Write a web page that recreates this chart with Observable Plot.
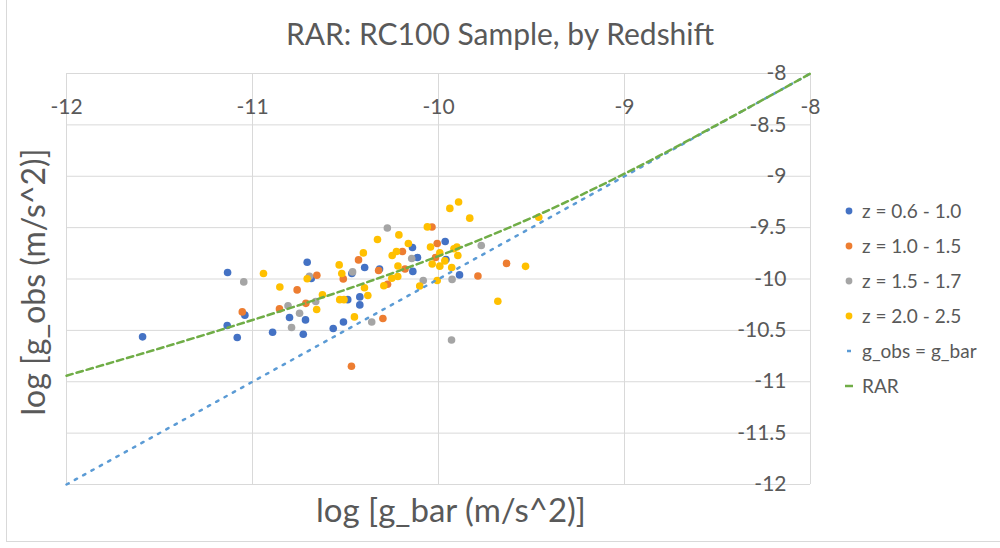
<!DOCTYPE html>
<html><head><meta charset="utf-8">
<script src="https://cdn.jsdelivr.net/npm/d3@7"></script>
<script src="https://cdn.jsdelivr.net/npm/@observablehq/plot@0.6"></script>
<style>
body{margin:0;background:#fff;font-family:Lato,"Open Sans",sans-serif;color:#595959}
#wrap{position:relative;width:1000px;height:548px;overflow:hidden}
#border{position:absolute;left:6px;top:-1px;width:1000px;height:543px;border:1px solid #D9D9D9;box-sizing:border-box}
#title{position:absolute;left:0;top:0;width:1000px;height:50px;text-align:center;font-size:30px;line-height:66px}
#chart{position:absolute;left:0;top:50px}
#xtitle{position:absolute;left:201px;width:500px;top:489px;text-align:center;font-size:33px}
#ytitle{position:absolute;left:32px;top:282px;transform:translate(-50%,-50%) rotate(-90deg);white-space:nowrap;font-size:32px}
#legend{position:absolute;left:843px;top:193px;font-size:19px}
.row{height:35px;display:flex;align-items:center}
.row svg{margin-right:5px}
</style></head>
<body><div id="wrap">
<div id="border"></div>
<div id="title">RAR: RC100 Sample, by Redshift</div>
<div id="chart"></div>
<div id="xtitle">log [g_bar (m/s^2)]</div>
<div id="ytitle">log [g_obs (m/s^2)]</div>
<div id="legend"></div>
</div>
<script>
const xTicks = [-12, -11, -10, -9, -8];
const xTickLabels = ["-12", "-11", "-10", "-9", "-8"];
const yTicks = [-8, -8.5, -9, -9.5, -10, -10.5, -11, -11.5, -12];
const yTickLabels = ["-8", "-8.5", "-9", "-9.5", "-10", "-10.5", "-11", "-11.5", "-12"];

const seriesNames = ["z = 0.6 - 1.0", "z = 1.0 - 1.5", "z = 1.5 - 1.7", "z = 2.0 - 2.5", "g_obs = g_bar", "RAR"];
const seriesColors = ["#4472C4", "#ED7D31", "#A5A5A5", "#FFC000", "#5B9BD5", "#70AD47"];

const z06_10 = [[-11.591,-10.563],[-11.134,-9.937],[-11.136,-10.453],[-11.082,-10.569],[-11.041,-10.352],
 [-10.892,-10.518],[-10.801,-10.375],[-10.715,-10.398],[-10.727,-10.537],[-10.706,-9.837],[-10.684,-9.995],
 [-10.566,-10.482],[-10.511,-10.418],[-10.488,-10.201],[-10.423,-10.174],[-10.423,-10.252],[-10.466,-9.946],
 [-10.397,-9.888],[-10.317,-9.902],[-10.140,-9.693],[-10.113,-9.791],[-10.138,-9.926],[-9.964,-9.635],
 [-9.960,-9.810],[-9.887,-9.960]];
const z10_15 = [[-11.055,-10.320],[-10.855,-10.291],[-10.760,-10.106],[-10.713,-10.237],[-10.654,-9.963],
 [-10.512,-9.999],[-10.430,-9.814],[-10.468,-10.849],[-10.322,-9.917],[-10.299,-10.384],[-10.274,-10.051],
 [-10.194,-9.732],[-10.180,-9.902],[-10.035,-9.494],[-10.007,-9.654],[-10.016,-9.791],[-9.788,-9.971],
 [-9.634,-9.848]];
const z15_17 = [[-11.047,-10.028],[-10.809,-10.260],[-10.790,-10.472],[-10.747,-10.333],[-10.694,-9.973],
 [-10.660,-10.219],[-10.462,-9.931],[-10.359,-10.418],[-10.275,-9.504],[-10.144,-9.800],[-10.082,-10.014],
 [-9.927,-10.004],[-9.930,-10.593],[-9.770,-9.674]];
const z20_25 = [[-10.941,-9.946],[-10.853,-10.078],[-10.706,-9.997],[-10.655,-10.297],[-10.624,-10.153],
 [-10.534,-9.863],[-10.531,-10.201],[-10.508,-10.201],[-10.520,-9.946],[-10.452,-10.369],[-10.404,-9.746],
 [-10.398,-10.085],[-10.380,-10.160],[-10.328,-9.616],[-10.294,-10.065],[-10.249,-9.771],[-10.251,-9.992],
 [-10.226,-9.732],[-10.218,-9.873],[-10.219,-9.976],[-10.213,-9.571],[-10.162,-9.654],[-10.101,-10.068],
 [-10.060,-9.493],[-10.043,-9.688],[-10.034,-9.854],[-10.007,-10.015],[-9.993,-9.746],[-9.993,-9.875],
 [-9.966,-9.824],[-9.939,-9.313],[-9.929,-9.888],[-9.917,-9.705],[-9.901,-9.688],[-9.896,-9.771],
 [-9.892,-9.250],[-9.832,-9.408],[-9.681,-10.216],[-9.532,-9.877],[-9.461,-9.399]];
const unityLine = [[-12,-12],[-8,-8]];
const rarLine = [[-12,-10.941],[-11.75,-10.809],[-11.5,-10.676],[-11.25,-10.539],[-11,-10.399],
 [-10.75,-10.255],[-10.5,-10.104],[-10.25,-9.945],[-10,-9.777],[-9.75,-9.598],[-9.5,-9.405],
 [-9.25,-9.197],[-9,-8.975],[-8.75,-8.741],[-8.5,-8.497],[-8.25,-8.250],[-8,-8.0]];

const pointSeries = [z06_10, z10_15, z15_17, z20_25];

const chart = Plot.plot({
  width: 1000, height: 498,
  marginLeft: 66, marginRight: 190, marginTop: 23, marginBottom: 64,
  x: {domain: [-12, -8], axis: null},
  y: {domain: [-12, -8], axis: null},
  style: {fontFamily: "Lato, 'Open Sans', sans-serif", color: "#595959", background: "transparent"},
  marks: [
    Plot.gridX(xTicks, {stroke: "#D9D9D9", strokeOpacity: 1, strokeWidth: 1}),
    Plot.gridY(yTicks, {stroke: "#D9D9D9", strokeOpacity: 1, strokeWidth: 1}),
    Plot.text(xTicks, {x: d => d, text: (d, i) => xTickLabels[i], frameAnchor: "top", dy: 34, fontSize: 21, fill: "#595959", lineAnchor: "middle"}),
    Plot.text(yTicks, {y: d => d, text: (d, i) => yTickLabels[i], frameAnchor: "right", dx: -24, textAnchor: "end", fontSize: 21, fill: "#595959", lineAnchor: "middle"}),
    ...pointSeries.map((s, i) => Plot.dot(s, {x: d => d[0], y: d => d[1], r: 3.8, fill: seriesColors[i], stroke: "none"})),
    Plot.line(unityLine, {x: d => d[0], y: d => d[1], stroke: seriesColors[4], strokeWidth: 2.5, strokeDasharray: "2.5,7"}),
    Plot.line(rarLine, {x: d => d[0], y: d => d[1], stroke: seriesColors[5], strokeWidth: 2.5, strokeDasharray: "6.5,4", curve: "catmull-rom"})
  ]
});
document.getElementById("chart").appendChild(chart);

const legend = document.getElementById("legend");
seriesNames.forEach((name, i) => {
  const row = document.createElement("div");
  row.className = "row";
  let marker;
  if (i < 4) marker = `<svg width="14" height="10"><circle cx="6" cy="5" r="3.4" fill="${seriesColors[i]}"/></svg>`;
  else if (i === 4) marker = `<svg width="14" height="10"><line x1="4" x2="8" y1="5" y2="5" stroke="${seriesColors[i]}" stroke-width="2.5"/></svg>`;
  else marker = `<svg width="14" height="10"><line x1="2" x2="10" y1="5" y2="5" stroke="${seriesColors[i]}" stroke-width="2.5"/></svg>`;
  row.innerHTML = marker + `<span>${name}</span>`;
  legend.appendChild(row);
});
</script>
</body></html>
